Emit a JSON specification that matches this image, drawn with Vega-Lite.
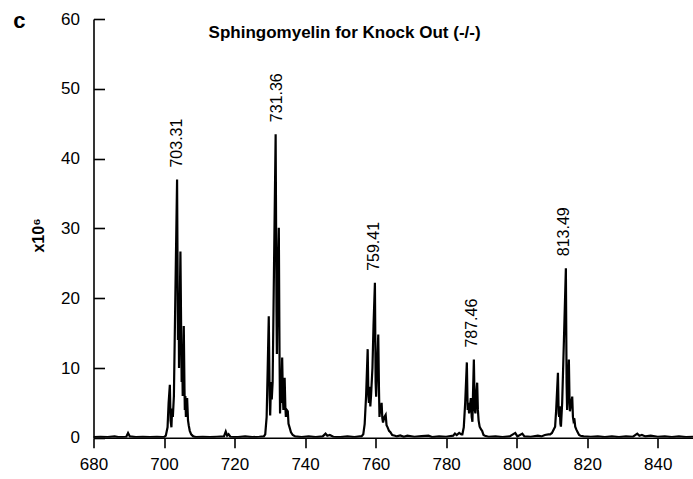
{
  "$schema": "https://vega.github.io/schema/vega-lite/v6.json",
  "width": 599.5,
  "height": 418.8,
  "autosize": {"type": "none"},
  "padding": {"left": 93.5, "top": 19, "right": 0, "bottom": 41.2},
  "background": "white",
  "config": {
    "view": {"stroke": null},
    "font": "Liberation Sans",
    "axis": {"grid": false, "labelFlush": false, "domainColor": "black", "tickColor": "black", "labelColor": "black", "titleColor": "black", "labelFont": "Liberation Sans", "titleFont": "Liberation Sans", "labelFontSize": 17, "domainWidth": 1.6, "tickWidth": 1.6}
  },
  "datasets": {
    "spectrum": [
      {"mz": 680.0, "intensity": 0.1}, {"mz": 682.0, "intensity": 0.15}, {"mz": 684.0, "intensity": 0.1}, {"mz": 686.0, "intensity": 0.2}, {"mz": 687.0, "intensity": 0.1}, {"mz": 689.3, "intensity": 0.15}, {"mz": 689.8, "intensity": 0.7}, {"mz": 690.3, "intensity": 0.2}, {"mz": 692.0, "intensity": 0.1}, {"mz": 694.0, "intensity": 0.15}, {"mz": 696.0, "intensity": 0.1}, {"mz": 698.0, "intensity": 0.15}, {"mz": 699.5, "intensity": 0.1},
      {"mz": 700.0, "intensity": 0.1}, {"mz": 700.5, "intensity": 0.3}, {"mz": 701.0, "intensity": 1.5}, {"mz": 701.3, "intensity": 5}, {"mz": 701.65, "intensity": 7.6}, {"mz": 701.85, "intensity": 2.5}, {"mz": 702.1, "intensity": 1.5}, {"mz": 702.3, "intensity": 4.2}, {"mz": 702.5, "intensity": 3.0}, {"mz": 702.8, "intensity": 6}, {"mz": 703.2, "intensity": 20}, {"mz": 703.7, "intensity": 37.0}, {"mz": 703.95, "intensity": 14}, {"mz": 704.15, "intensity": 20}, {"mz": 704.25, "intensity": 10}, {"mz": 704.65, "intensity": 26.7}, {"mz": 704.9, "intensity": 13}, {"mz": 705.0, "intensity": 8}, {"mz": 705.15, "intensity": 12}, {"mz": 705.3, "intensity": 6}, {"mz": 705.6, "intensity": 16}, {"mz": 705.8, "intensity": 7}, {"mz": 705.9, "intensity": 4}, {"mz": 706.05, "intensity": 6}, {"mz": 706.2, "intensity": 3}, {"mz": 706.55, "intensity": 5.7}, {"mz": 706.8, "intensity": 2.5}, {"mz": 707.0, "intensity": 1.8}, {"mz": 707.3, "intensity": 1.0}, {"mz": 707.7, "intensity": 0.5}, {"mz": 708.3, "intensity": 0.2},
      {"mz": 709.0, "intensity": 0.1}, {"mz": 711.0, "intensity": 0.15}, {"mz": 713.0, "intensity": 0.1}, {"mz": 715.0, "intensity": 0.15}, {"mz": 717.0, "intensity": 0.2}, {"mz": 717.5, "intensity": 0.9}, {"mz": 717.9, "intensity": 0.3}, {"mz": 718.3, "intensity": 0.5}, {"mz": 718.8, "intensity": 0.15}, {"mz": 721.0, "intensity": 0.1}, {"mz": 723.0, "intensity": 0.2}, {"mz": 725.0, "intensity": 0.1}, {"mz": 727.0, "intensity": 0.15},
      {"mz": 728.3, "intensity": 0.2}, {"mz": 728.7, "intensity": 0.5}, {"mz": 729.1, "intensity": 3}, {"mz": 729.4, "intensity": 10}, {"mz": 729.7, "intensity": 17.4}, {"mz": 729.95, "intensity": 6}, {"mz": 730.1, "intensity": 3.2}, {"mz": 730.35, "intensity": 8}, {"mz": 730.55, "intensity": 5.5}, {"mz": 730.8, "intensity": 8}, {"mz": 731.2, "intensity": 25}, {"mz": 731.65, "intensity": 43.5}, {"mz": 731.9, "intensity": 18}, {"mz": 732.0, "intensity": 12}, {"mz": 732.15, "intensity": 20}, {"mz": 732.55, "intensity": 30.1}, {"mz": 732.75, "intensity": 12}, {"mz": 732.9, "intensity": 3.5}, {"mz": 733.05, "intensity": 7}, {"mz": 733.2, "intensity": 5}, {"mz": 733.5, "intensity": 11.5}, {"mz": 733.7, "intensity": 6}, {"mz": 733.85, "intensity": 4}, {"mz": 734.2, "intensity": 8.6}, {"mz": 734.4, "intensity": 4.5}, {"mz": 734.55, "intensity": 3}, {"mz": 734.8, "intensity": 4}, {"mz": 735.1, "intensity": 3.8}, {"mz": 735.3, "intensity": 2.0}, {"mz": 735.6, "intensity": 1.5}, {"mz": 736.0, "intensity": 0.8}, {"mz": 736.5, "intensity": 0.4}, {"mz": 737.2, "intensity": 0.2},
      {"mz": 739.0, "intensity": 0.1}, {"mz": 741.0, "intensity": 0.2}, {"mz": 743.0, "intensity": 0.1}, {"mz": 745.0, "intensity": 0.2}, {"mz": 745.8, "intensity": 0.6}, {"mz": 746.3, "intensity": 0.3}, {"mz": 747.0, "intensity": 0.4}, {"mz": 748.0, "intensity": 0.15}, {"mz": 750.0, "intensity": 0.1}, {"mz": 752.0, "intensity": 0.2}, {"mz": 754.0, "intensity": 0.1}, {"mz": 755.5, "intensity": 0.2},
      {"mz": 756.0, "intensity": 0.2}, {"mz": 756.5, "intensity": 0.5}, {"mz": 756.9, "intensity": 2}, {"mz": 757.3, "intensity": 6}, {"mz": 757.75, "intensity": 12.7}, {"mz": 757.95, "intensity": 6}, {"mz": 758.1, "intensity": 5}, {"mz": 758.3, "intensity": 7.3}, {"mz": 758.5, "intensity": 4.5}, {"mz": 758.7, "intensity": 6}, {"mz": 759.1, "intensity": 10}, {"mz": 759.4, "intensity": 16}, {"mz": 759.8, "intensity": 22.2}, {"mz": 760.0, "intensity": 8}, {"mz": 760.15, "intensity": 5.9}, {"mz": 760.35, "intensity": 9}, {"mz": 760.75, "intensity": 14.8}, {"mz": 760.95, "intensity": 7}, {"mz": 761.1, "intensity": 3}, {"mz": 761.3, "intensity": 4.5}, {"mz": 761.5, "intensity": 3.5}, {"mz": 761.7, "intensity": 5}, {"mz": 761.9, "intensity": 2.8}, {"mz": 762.1, "intensity": 2.2}, {"mz": 762.5, "intensity": 3.0}, {"mz": 762.85, "intensity": 3.3}, {"mz": 763.1, "intensity": 1.8}, {"mz": 763.4, "intensity": 1.5}, {"mz": 763.8, "intensity": 1.0}, {"mz": 764.2, "intensity": 0.8}, {"mz": 764.7, "intensity": 0.4},
      {"mz": 765.5, "intensity": 0.3}, {"mz": 766.0, "intensity": 0.2}, {"mz": 767.0, "intensity": 0.35}, {"mz": 768.0, "intensity": 0.15}, {"mz": 769.0, "intensity": 0.3}, {"mz": 771.0, "intensity": 0.15}, {"mz": 773.0, "intensity": 0.25}, {"mz": 775.0, "intensity": 0.3}, {"mz": 776.0, "intensity": 0.1}, {"mz": 778.0, "intensity": 0.2}, {"mz": 780.0, "intensity": 0.15}, {"mz": 782.0, "intensity": 0.3}, {"mz": 782.5, "intensity": 0.6}, {"mz": 783.0, "intensity": 0.4}, {"mz": 783.7, "intensity": 0.7}, {"mz": 784.3, "intensity": 0.5},
      {"mz": 784.6, "intensity": 0.5}, {"mz": 785.0, "intensity": 1.5}, {"mz": 785.4, "intensity": 5}, {"mz": 785.87, "intensity": 10.8}, {"mz": 786.1, "intensity": 4}, {"mz": 786.3, "intensity": 5}, {"mz": 786.5, "intensity": 3.5}, {"mz": 786.75, "intensity": 4.5}, {"mz": 787.0, "intensity": 5.7}, {"mz": 787.25, "intensity": 3}, {"mz": 787.45, "intensity": 2.3}, {"mz": 787.6, "intensity": 6}, {"mz": 787.86, "intensity": 11.2}, {"mz": 788.1, "intensity": 4}, {"mz": 788.3, "intensity": 3.5}, {"mz": 788.5, "intensity": 6}, {"mz": 788.8, "intensity": 7.9}, {"mz": 789.0, "intensity": 4}, {"mz": 789.2, "intensity": 2.5}, {"mz": 789.5, "intensity": 1.6}, {"mz": 789.9, "intensity": 1.2}, {"mz": 790.2, "intensity": 1.0}, {"mz": 790.6, "intensity": 0.4},
      {"mz": 791.0, "intensity": 0.3}, {"mz": 792.0, "intensity": 0.15}, {"mz": 794.0, "intensity": 0.2}, {"mz": 796.0, "intensity": 0.1}, {"mz": 798.0, "intensity": 0.2}, {"mz": 799.6, "intensity": 0.7}, {"mz": 800.2, "intensity": 0.2}, {"mz": 801.6, "intensity": 0.6}, {"mz": 802.2, "intensity": 0.2}, {"mz": 804.0, "intensity": 0.15}, {"mz": 806.0, "intensity": 0.3}, {"mz": 807.0, "intensity": 0.2}, {"mz": 808.0, "intensity": 0.4}, {"mz": 809.0, "intensity": 0.5},
      {"mz": 809.5, "intensity": 0.5}, {"mz": 810.0, "intensity": 0.7}, {"mz": 810.5, "intensity": 1.2}, {"mz": 810.9, "intensity": 1.6}, {"mz": 811.2, "intensity": 4}, {"mz": 811.7, "intensity": 9.3}, {"mz": 811.9, "intensity": 3.5}, {"mz": 812.05, "intensity": 3}, {"mz": 812.2, "intensity": 4.5}, {"mz": 812.4, "intensity": 2}, {"mz": 812.55, "intensity": 1.6}, {"mz": 812.9, "intensity": 5}, {"mz": 813.4, "intensity": 14}, {"mz": 813.95, "intensity": 24.3}, {"mz": 814.15, "intensity": 8}, {"mz": 814.3, "intensity": 4}, {"mz": 814.45, "intensity": 6}, {"mz": 814.8, "intensity": 11.2}, {"mz": 815.0, "intensity": 5}, {"mz": 815.1, "intensity": 3.8}, {"mz": 815.3, "intensity": 4.5}, {"mz": 815.75, "intensity": 5.9}, {"mz": 815.95, "intensity": 3}, {"mz": 816.1, "intensity": 2.5}, {"mz": 816.35, "intensity": 2.8}, {"mz": 816.6, "intensity": 1.6}, {"mz": 816.9, "intensity": 1.2}, {"mz": 817.3, "intensity": 0.8}, {"mz": 817.7, "intensity": 0.4}, {"mz": 818.1, "intensity": 0.3},
      {"mz": 819.0, "intensity": 0.2}, {"mz": 821.0, "intensity": 0.15}, {"mz": 823.0, "intensity": 0.2}, {"mz": 825.0, "intensity": 0.1}, {"mz": 827.0, "intensity": 0.2}, {"mz": 829.0, "intensity": 0.1}, {"mz": 831.0, "intensity": 0.2}, {"mz": 833.0, "intensity": 0.15}, {"mz": 834.2, "intensity": 0.6}, {"mz": 834.8, "intensity": 0.3}, {"mz": 835.5, "intensity": 0.4}, {"mz": 836.5, "intensity": 0.2}, {"mz": 838.0, "intensity": 0.3}, {"mz": 840.0, "intensity": 0.15}, {"mz": 842.0, "intensity": 0.2}, {"mz": 844.0, "intensity": 0.1}, {"mz": 846.0, "intensity": 0.2}, {"mz": 848.0, "intensity": 0.1}, {"mz": 850.0, "intensity": 0.15}
    ],
    "peaks": [
      {"mz": 703.6, "intensity": 37.0, "label": "703.31"},
      {"mz": 732.0, "intensity": 43.5, "label": "731.36"},
      {"mz": 759.5, "intensity": 22.2, "label": "759.41"},
      {"mz": 787.3, "intensity": 11.2, "label": "787.46"},
      {"mz": 813.4, "intensity": 24.3, "label": "813.49"}
    ],
    "panel": [{"letter": "c"}],
    "heading": [{"text": "Sphingomyelin for Knock Out (-/-)"}]
  },
  "layer": [
    {
      "data": {"name": "spectrum"},
      "mark": {"type": "line", "color": "black", "strokeWidth": 2.2, "clip": true},
      "encoding": {
        "x": {"field": "mz", "type": "quantitative", "scale": {"domain": [680, 850], "nice": false, "zero": false},
              "axis": {"title": null, "values": [680, 700, 720, 740, 760, 780, 800, 820, 840], "tickSize": 10, "labelPadding": 9, "format": "d"}},
        "y": {"field": "intensity", "type": "quantitative", "scale": {"domain": [0, 60], "nice": false},
              "axis": {"title": "x10⁶", "titleFontSize": 16, "titleFontWeight": "bold", "titlePadding": 14, "titleY": 216, "values": [0, 10, 20, 30, 40, 50, 60], "tickSize": -11, "labelPadding": 25, "format": "d"}}
      }
    },
    {
      "data": {"name": "peaks"},
      "mark": {"type": "text", "angle": 270, "align": "left", "baseline": "middle", "dx": 12, "fontSize": 16, "font": "Liberation Sans", "color": "black"},
      "encoding": {
        "x": {"field": "mz", "type": "quantitative"},
        "y": {"field": "intensity", "type": "quantitative"},
        "text": {"field": "label", "type": "nominal"}
      }
    },
    {
      "data": {"name": "heading"},
      "mark": {"type": "text", "fontSize": 17, "fontWeight": "bold", "font": "Liberation Sans", "color": "black", "align": "center", "baseline": "alphabetic"},
      "encoding": {
        "x": {"datum": 751.2},
        "y": {"datum": 57.3},
        "text": {"field": "text", "type": "nominal"}
      }
    },
    {
      "data": {"name": "panel"},
      "mark": {"type": "text", "fontSize": 22, "fontWeight": "bold", "font": "Liberation Sans", "color": "black", "align": "center", "baseline": "alphabetic"},
      "encoding": {
        "x": {"datum": 659},
        "y": {"datum": 58.65},
        "text": {"field": "letter", "type": "nominal"}
      }
    }
  ]
}
